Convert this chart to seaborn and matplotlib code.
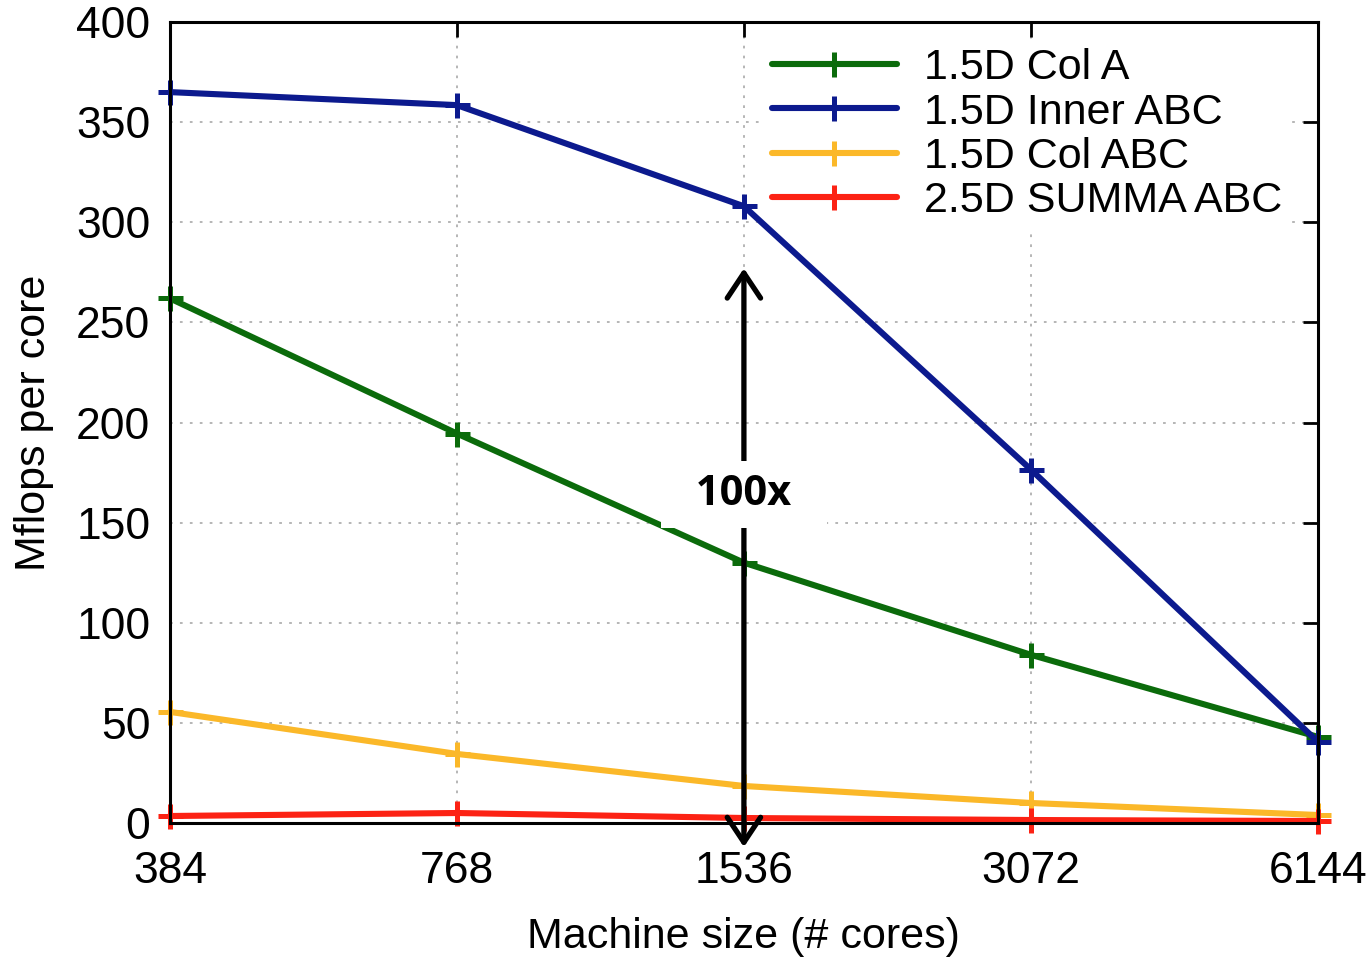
import numpy as np
import pandas as pd
import matplotlib
matplotlib.use("Agg")
import matplotlib.pyplot as plt
import seaborn as sns

# values
cores = [384, 768, 1536, 3072, 6144]
col_a = [262, 194.5, 130, 84, 43]
inner_abc = [365, 358.5, 308, 176.5, 40.5]
col_abc = [55.5, 34.5, 18.5, 10, 4]
summa_abc = [3.5, 5, 2.5, 1.5, 1]
series_names = ["1.5D Col A", "1.5D Inner ABC", "1.5D Col ABC", "2.5D SUMMA ABC"]
series_colors = ["#0b6b0b", "#0c1a8e", "#fbb829", "#fc2214"]
y_ticks = [0, 50, 100, 150, 200, 250, 300, 350, 400]

df = pd.DataFrame({
    "cores": cores * 4,
    "mflops": col_a + inner_abc + col_abc + summa_abc,
    "series": np.repeat(series_names, len(cores)),
})

sns.set_style("white")
plt.rcParams["font.family"] = ["Liberation Sans", "DejaVu Sans"]
plt.rcParams["text.color"] = "black"
plt.rcParams["axes.labelcolor"] = "black"
plt.rcParams["xtick.color"] = "black"
plt.rcParams["ytick.color"] = "black"

fig = plt.figure(figsize=(13.7, 9.57), dpi=100)
ax = fig.add_axes([0.124, 0.140, 0.838, 0.837])

for name, color in zip(series_names, series_colors):
    sns.lineplot(data=df[df["series"] == name], x="cores", y="mflops", ax=ax,
                 color=color, label=name, linewidth=4.4, marker="+",
                 markersize=18, markeredgewidth=3.6, markeredgecolor=color,
                 clip_on=False)

ax.set_xscale("log", base=2)
ax.set_xlim(cores[0], cores[-1])
ax.set_ylim(0, 400)
ax.set_xticks(cores)
ax.set_xticklabels([str(c) for c in cores])
ax.minorticks_off()
ax.set_yticks(y_ticks)

ax.grid(True, color="#b0b0b0", linestyle=(0, (1.5, 4)), linewidth=1.3)
for s in ax.spines.values():
    s.set_linewidth(2.2)
    s.set_color("black")
ax.tick_params(direction="in", length=11, width=2, labelsize=32,
               top=True, right=True, pad=14)
ax.tick_params(axis="x", pad=20)

ax.set_xlabel("Machine size (# cores)", fontsize=31, labelpad=18)
ax.set_ylabel("Mflops per core", fontsize=31, labelpad=16)

leg = ax.legend(loc="upper right", bbox_to_anchor=(0.976, 0.978), fontsize=31,
                frameon=True, framealpha=1, edgecolor="white", fancybox=False,
                handlelength=2.9, handletextpad=0.62, labelspacing=0.1,
                borderpad=0.2, borderaxespad=0)
leg.set_zorder(1.5)  # hide the grid, but not the data lines

# the 100x arrow at 1536 cores
ax.annotate("", xy=(1536, 277), xytext=(1536, -12),
            arrowprops=dict(arrowstyle="<->,head_length=0.9,head_width=0.6",
                            mutation_scale=20, lw=3.8, color="black",
                            shrinkA=0, shrinkB=0),
            annotation_clip=False, zorder=6)
ax.text(1536, 164, "  100x  ", fontsize=30, fontweight="bold",
        family=["Open Sans", "DejaVu Sans"], ha="center", va="center",
        zorder=7, bbox=dict(boxstyle="square,pad=0.32", facecolor="white",
                            edgecolor="none"))

fig.savefig("out.png", dpi=100)
